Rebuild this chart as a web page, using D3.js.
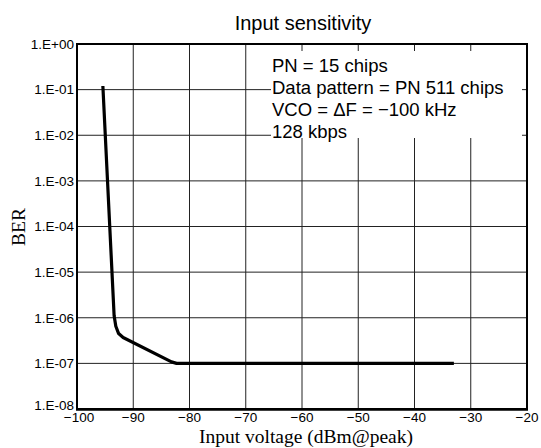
<!DOCTYPE html>
<html><head><meta charset="utf-8">
<script src="https://cdn.jsdelivr.net/npm/d3@7"></script>
<style>body{margin:0;background:#fff}svg{display:block}</style>
</head><body>
<svg id="c" width="541" height="448"></svg>
<script>
const xValues = [-95.4, -93.4, -93.1, -92.6, -91.8, -83.2, -82.3, -33.0];
const berValues = [1.2e-1, 1.1e-6, 6.5e-7, 4.5e-7, 3.7e-7, 1.08e-7, 1.0e-7, 1.0e-7];
const xTicks = [-100, -90, -80, -70, -60, -50, -40, -30, -20];
const yTicks = [1, 1e-1, 1e-2, 1e-3, 1e-4, 1e-5, 1e-6, 1e-7, 1e-8];
const yTickLabels = ["1.E+00","1.E-01","1.E-02","1.E-03","1.E-04","1.E-05","1.E-06","1.E-07","1.E-08"];
const legendLines = ["PN = 15 chips", "Data pattern = PN 511 chips", "VCO = \u0394F = \u2212100 kHz", "128 kbps"];

const svg = d3.select("#c");
const L = 77, R = 527, T = 44, B = 409;
const x = d3.scaleLinear().domain([-100, -20]).range([L, R]);
const y = d3.scaleLog().domain([1e-8, 1]).range([B, T]);
const sans = "Liberation Sans, Arial, sans-serif";
const serif = "Liberation Serif, Times New Roman, serif";

// grid
const g = svg.append("g");
g.selectAll(".vg").data(xTicks).join("line")
  .attr("x1", d => x(d)).attr("x2", d => x(d)).attr("y1", T).attr("y2", B)
  .attr("stroke", "#222").attr("stroke-width", 1);
g.selectAll(".hg").data(yTicks).join("line")
  .attr("x1", L).attr("x2", R).attr("y1", d => y(d)).attr("y2", d => y(d))
  .attr("stroke", "#222").attr("stroke-width", 1);

// white legend box over grid
svg.append("rect").attr("x", 271).attr("y", 51).attr("width", 251).attr("height", 87).attr("fill", "#fff");

// border
svg.append("rect").attr("x", L).attr("y", T).attr("width", R - L).attr("height", B - T)
  .attr("fill", "none").attr("stroke", "#000").attr("stroke-width", 2);
svg.append("line").attr("x1", L - 1).attr("x2", R + 1).attr("y1", B + 0.5).attr("y2", B + 0.5)
  .attr("stroke", "#000").attr("stroke-width", 2.5);

// curve
svg.append("path").datum(xValues.map((v, i) => [v, berValues[i]]))
  .attr("d", d3.line().x(d => x(d[0])).y(d => y(d[1])))
  .attr("fill", "none").attr("stroke", "#000").attr("stroke-width", 3.2)
  .attr("stroke-linejoin", "round").attr("stroke-linecap", "butt");

// y tick labels
svg.selectAll(".yl").data(yTicks).join("text")
  .attr("x", L - 3).attr("y", (d, i) => y(d) + (i === 8 ? -4 : 0)).attr("dy", "0.36em")
  .attr("text-anchor", "end").attr("font-family", sans)
  .attr("font-size", 13.5).text((d, i) => yTickLabels[i]);

// x tick labels
svg.selectAll(".xl").data(xTicks).join("text")
  .attr("x", (d, i) => x(d) + (i === 0 ? 2 : 0)).attr("y", 422)
  .attr("text-anchor", "middle").attr("font-family", sans)
  .attr("font-size", 13.5).text(d => d < 0 ? "\u2212" + Math.abs(d) : d);

// title
svg.append("text").attr("x", 303).attr("y", 30).attr("text-anchor", "middle")
  .attr("font-family", sans).attr("font-size", 20)
  .text("Input sensitivity");

// axis titles
svg.append("text").attr("x", 306).attr("y", 443).attr("text-anchor", "middle")
  .attr("font-family", serif).attr("font-size", 19.5)
  .text("Input voltage (dBm@peak)");
svg.append("text").attr("transform", `translate(25,227) rotate(-90)`)
  .attr("text-anchor", "middle")
  .attr("font-family", serif).attr("font-size", 19.5)
  .text("BER");

// legend text
svg.selectAll(".lg").data(legendLines).join("text")
  .attr("x", 272).attr("y", (d, i) => 72 + i * 22)
  .attr("font-family", sans).attr("font-size", 18.5)
  .text(d => d);
</script>
</body></html>
